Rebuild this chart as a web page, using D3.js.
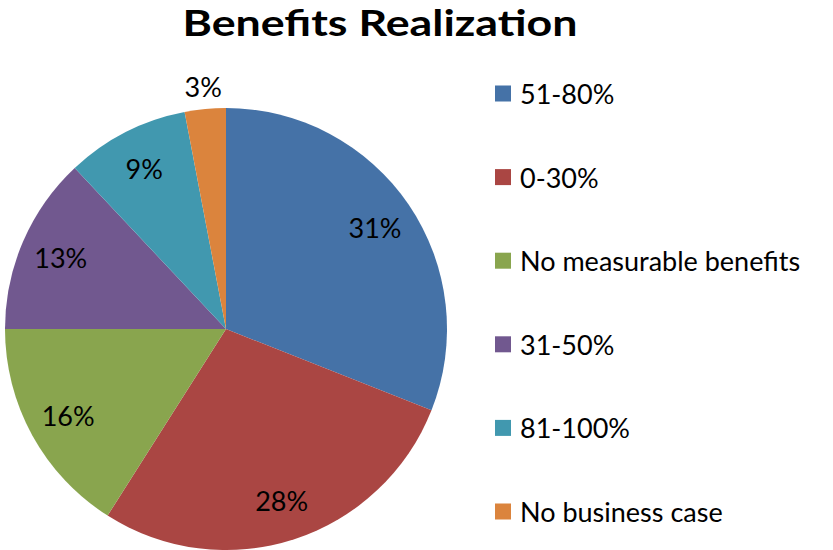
<!DOCTYPE html>
<html><head><meta charset="utf-8">
<script src="https://cdn.jsdelivr.net/npm/d3@7"></script>
<style>body{margin:0;background:#fff}</style>
</head><body>
<svg id="c" width="833" height="550"></svg>
<script>
const categories = ["51-80%", "0-30%", "No measurable benefits", "31-50%", "81-100%", "No business case"];
const values = [31, 28, 16, 13, 9, 3];
const colors = ["#4572A7", "#AA4643", "#89A54E", "#71588F", "#4198AF", "#DB843D"];
const title = "Benefits Realization";

const svg = d3.select("#c");
const cx = 226, cy = 329, R = 221;
const font = "Lato, 'Open Sans', sans-serif";

svg.append("text").attr("x", 380).attr("y", 36).attr("text-anchor", "middle")
  .attr("font-family", font).attr("font-weight", "bold").attr("font-size", 36)
  .attr("textLength", 395).attr("lengthAdjust", "spacingAndGlyphs")
  .attr("fill", "#000").text(title);

const data = categories.map((c, i) => ({cat: c, val: values[i], color: colors[i]}));
const pie = d3.pie().value(d => d.val).sort(null);
const arcs = pie(data);
const arc = d3.arc().innerRadius(0).outerRadius(R);
const labelArc = d3.arc().innerRadius(R * 0.815).outerRadius(R * 0.815);
const outArc = d3.arc().innerRadius(R * 1.1).outerRadius(R * 1.1);
const total = d3.sum(values);

const g = svg.append("g").attr("transform", `translate(${cx},${cy})`);
g.selectAll("path").data(arcs).join("path")
  .attr("d", arc).attr("fill", d => d.data.color);

g.selectAll("text").data(arcs).join("text")
  .each(function(d) {
    const outside = d.data.val / total < 0.05;
    const p = outside ? outArc.centroid(d) : labelArc.centroid(d);
    d3.select(this).attr("x", p[0]).attr("y", p[1]);
  })
  .attr("text-anchor", "middle")
  .attr("dominant-baseline", "central")
  .attr("font-family", font).attr("font-size", 27).attr("fill", "#000")
  .text(d => Math.round(d.data.val / total * 100) + "%");

const ly = d3.scalePoint().domain(categories).range([93.5, 511.5]);
const leg = svg.append("g");
const items = leg.selectAll("g").data(data).join("g")
  .attr("transform", d => `translate(495,${ly(d.cat)})`);
items.append("rect").attr("x", 0).attr("y", -8).attr("width", 16).attr("height", 16)
  .attr("fill", d => d.color);
items.append("text").attr("x", 25).attr("y", 0).attr("dominant-baseline", "central")
  .attr("font-family", font).attr("font-size", 27).attr("fill", "#000")
  .text(d => d.cat);
</script>
</body></html>
